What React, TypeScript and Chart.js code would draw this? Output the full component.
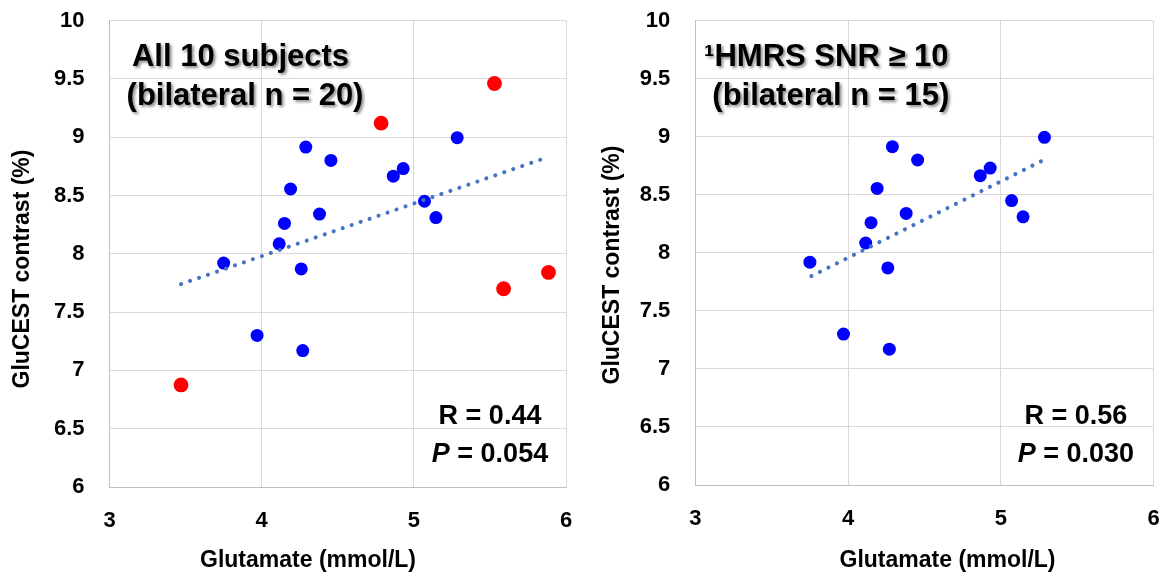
import React, { useEffect, useRef } from "react";
import { Chart, registerables } from "chart.js";

Chart.register(...registerables);

// ---- data ----
const blueX = [3.75, 3.97, 4.115, 4.15, 4.19, 4.26, 4.27, 4.29, 4.38, 4.455, 4.865, 4.93, 5.07, 5.145, 5.285];
const blueY = [7.92, 7.3, 8.085, 8.26, 8.555, 7.87, 7.17, 8.915, 8.34, 8.8, 8.665, 8.73, 8.45, 8.31, 8.995];
const redX = [3.47, 4.785, 5.53, 5.59, 5.885];
const redY = [6.875, 9.12, 9.46, 7.7, 7.84];
const trendAllX = [3.47, 5.84];
const trendAllY = [7.74, 8.81];
const trendSnrX = [3.76, 5.28];
const trendSnrY = [7.8, 8.8];
const xTicks = [3, 4, 5, 6];
const yTicks = [6, 6.5, 7, 7.5, 8, 8.5, 9, 9.5, 10];
const xTitle = "Glutamate (mmol/L)";
const yTitle = "GluCEST contrast (%)";

const FONT = "'Liberation Sans', Arial, sans-serif";

const pts = (xs: number[], ys: number[]) => xs.map((x, i) => ({ x, y: ys[i] }));

type PanelProps = {
  left: number;
  width: number;
  height: number;
  area: { left: number; top: number; right: number; bottom: number };
  showRed: boolean;
  trendX: number[];
  trendY: number[];
  line1: string;
  line2: string;
  rText: string;
  pText: string;
  xTitleX: number;
  yTitleY: number;
};

function Panel(p: PanelProps) {
  const ref = useRef<HTMLCanvasElement | null>(null);
  useEffect(() => {
    if (!ref.current) return;
    const annot = {
      id: "annot",
      afterDraw(chart: any) {
        const ctx = chart.ctx as CanvasRenderingContext2D;
        const ca = chart.chartArea;
        ctx.save();
        ctx.fillStyle = "#000";
        ctx.textAlign = "center";
        ctx.textBaseline = "middle";
        ctx.shadowColor = "rgba(0,0,0,0.45)";
        ctx.shadowBlur = 3;
        ctx.shadowOffsetX = 2;
        ctx.shadowOffsetY = 2;
        ctx.font = `bold 31px ${FONT}`;
        ctx.fillText(p.line1, ca.left + 131, ca.top + 37);
        ctx.fillText(p.line2, ca.left + 135.5, ca.top + 75.5);
        ctx.shadowColor = "transparent";
        ctx.shadowBlur = 0;
        ctx.shadowOffsetX = 0;
        ctx.shadowOffsetY = 0;
        ctx.font = `bold 27px ${FONT}`;
        const cx = ca.left + 380.5;
        ctx.fillText(p.rText, cx, ca.top + 396);
        const pPart = "P";
        const rest = " = " + p.pText;
        ctx.font = `italic bold 27px ${FONT}`;
        const w1 = ctx.measureText(pPart).width;
        ctx.font = `bold 27px ${FONT}`;
        const w2 = ctx.measureText(rest).width;
        const start = cx - (w1 + w2) / 2;
        ctx.textAlign = "left";
        ctx.font = `italic bold 27px ${FONT}`;
        ctx.fillText(pPart, start, ca.top + 434);
        ctx.font = `bold 27px ${FONT}`;
        ctx.fillText(rest, start + w1, ca.top + 434);
        ctx.textAlign = "center";
        ctx.font = `bold 23px ${FONT}`;
        ctx.fillText(xTitle, p.xTitleX, 560.5);
        ctx.translate(23, p.yTitleY);
        ctx.rotate(-Math.PI / 2);
        ctx.fillText(yTitle, 0, 0);
        ctx.restore();
      },
    };
    const datasets: any[] = [
      {
        type: "line",
        data: pts(p.trendX, p.trendY),
        borderColor: "#4472C4",
        borderWidth: 4,
        borderDash: [0.1, 9.4],
        borderCapStyle: "round",
        pointRadius: 0,
        fill: false,
        tension: 0,
      },
    ];
    if (p.showRed) {
      datasets.push({
        type: "scatter",
        data: pts(redX, redY),
        backgroundColor: "#FF0000",
        borderColor: "#FF0000",
        borderWidth: 0,
        pointRadius: 7.4,
      });
    }
    datasets.push({
      type: "scatter",
      data: pts(blueX, blueY),
      backgroundColor: "#0000FF",
      borderColor: "#0000FF",
      borderWidth: 0,
      pointRadius: 6.5,
    });
    const chart = new Chart(ref.current, {
      type: "scatter",
      data: { datasets },
      plugins: [annot],
      options: {
        responsive: false,
        animation: false,
        devicePixelRatio: 1,
        layout: {
          padding: { left: 0, top: p.area.top, right: p.width - p.area.right, bottom: 0 },
        },
        plugins: { legend: { display: false }, tooltip: { enabled: false } },
        scales: {
          x: {
            type: "linear",
            min: 3,
            max: 6,
            afterBuildTicks: (s: any) => {
              s.ticks = xTicks.map((v) => ({ value: v }));
            },
            afterFit: (s: any) => {
              s.height = p.height - p.area.bottom;
              s.paddingLeft = 0;
              s.paddingRight = 0;
            },
            grid: { color: "#d9d9d9", lineWidth: 1, drawTicks: false },
            border: { color: "#bfbfbf", width: 1 },
            ticks: {
              color: "#000",
              padding: 21,
              font: { family: FONT, size: 22, weight: "bold" },
              callback: (v: any) => String(v),
            },
          },
          y: {
            type: "linear",
            min: 6,
            max: 10,
            afterBuildTicks: (s: any) => {
              s.ticks = yTicks.map((v) => ({ value: v }));
            },
            afterFit: (s: any) => {
              s.width = p.area.left;
              s.paddingTop = 0;
              s.paddingBottom = 0;
            },
            grid: { color: "#d9d9d9", lineWidth: 1, drawTicks: false },
            border: { color: "#bfbfbf", width: 1 },
            ticks: {
              color: "#000",
              padding: 25,
              font: { family: FONT, size: 22, weight: "bold" },
              callback: (v: any) => String(v),
            },
          },
        },
      } as any,
    });
    return () => chart.destroy();
  }, []);
  return (
    <canvas
      ref={ref}
      width={p.width}
      height={p.height}
      style={{ position: "absolute", left: p.left, top: 0, width: p.width, height: p.height }}
    />
  );
}

export default function App() {
  return (
    <div style={{ position: "absolute", left: 0, top: 0, width: 1171, height: 577, background: "#fff" }}>
      <Panel
        left={0}
        width={590}
        height={577}
        area={{ left: 109.5, top: 20.5, right: 566, bottom: 487 }}
        showRed={true}
        trendX={trendAllX}
        trendY={trendAllY}
        line1="All 10 subjects"
        line2="(bilateral n = 20)"
        rText="R = 0.44"
        pText="0.054"
        xTitleX={308}
        yTitleY={269}
      />
      <Panel
        left={590}
        width={581}
        height={577}
        area={{ left: 105.3, top: 20.7, right: 563.7, bottom: 485 }}
        showRed={false}
        trendX={trendSnrX}
        trendY={trendSnrY}
        line1={"\u00B9HMRS SNR \u2265 10"}
        line2="(bilateral n = 15)"
        rText="R = 0.56"
        pText="0.030"
        xTitleX={357.5}
        yTitleY={265}
      />
    </div>
  );
}
